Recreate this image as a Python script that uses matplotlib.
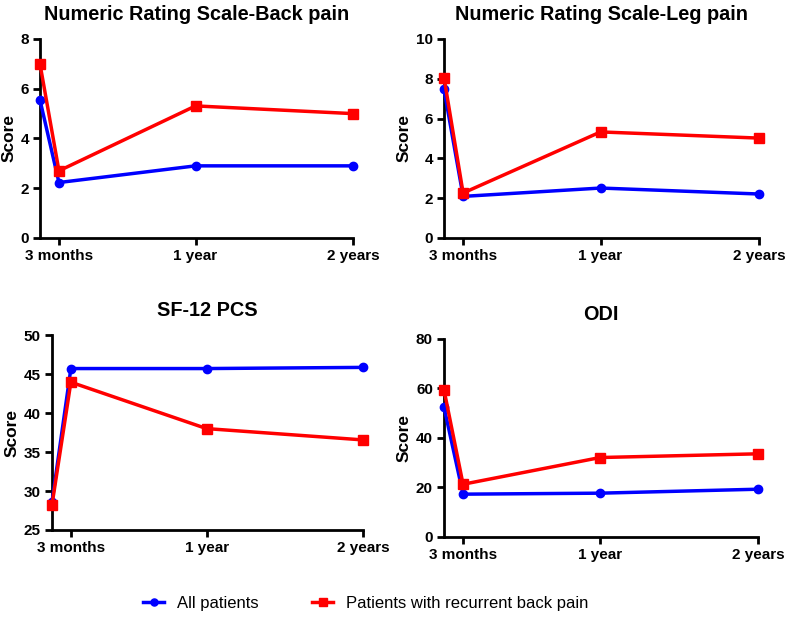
import matplotlib
matplotlib.use('Agg')
import matplotlib.pyplot as plt

plt.rcParams['font.family'] = ['Liberation Sans', 'DejaVu Sans']

# visit positions on the x axis (baseline, 3 months, 1 year, 2 years)
visit_pos = [0, 1, 8.2, 16.5]
tick_labels = ['3 months', '1 year', '2 years']

titles = ['Numeric Rating Scale-Back pain', 'Numeric Rating Scale-Leg pain',
          'SF-12 PCS', 'ODI']

all_back = [5.55, 2.23, 2.90, 2.90]
rec_back = [7.0, 2.70, 5.31, 5.0]
all_leg = [7.47, 2.09, 2.51, 2.21]
rec_leg = [8.06, 2.26, 5.33, 5.02]
all_sf12 = [28.6, 45.7, 45.7, 45.85]
rec_sf12 = [28.25, 43.95, 38.0, 36.55]
all_odi = [52.4, 17.3, 17.7, 19.3]
rec_odi = [59.4, 21.3, 32.1, 33.6]

ylims = [(0, 8), (0, 10), (25, 50), (0, 80)]
yticks = [[0, 2, 4, 6, 8], [0, 2, 4, 6, 8, 10], [25, 30, 35, 40, 45, 50],
          [0, 20, 40, 60, 80]]

series = [(all_back, rec_back), (all_leg, rec_leg),
          (all_sf12, rec_sf12), (all_odi, rec_odi)]

# axes rectangles [left, bottom, width, height] in figure fraction
rects = [[0.0508, 0.6149, 0.3977, 0.3220],
         [0.5642, 0.6149, 0.4002, 0.3220],
         [0.0661, 0.1424, 0.3952, 0.3155],
         [0.5642, 0.1311, 0.3990, 0.3204]]

fig = plt.figure(figsize=(7.87, 6.18), dpi=100)

for i in range(4):
    ax = fig.add_axes(rects[i])
    all_v, rec_v = series[i]
    l1, = ax.plot(visit_pos, all_v, color='#0000ff', lw=2.5, marker='o',
                  ms=6, label='All patients', clip_on=False, zorder=3)
    l2, = ax.plot(visit_pos, rec_v, color='#ff0000', lw=2.5, marker='s',
                  ms=7, label='Patients with recurrent back pain',
                  clip_on=False, zorder=4)
    ax.set_xlim(0, visit_pos[-1])
    ax.set_ylim(*ylims[i])
    ax.set_yticks(yticks[i])
    ax.set_xticks(visit_pos[1:])
    ax.set_xticklabels(tick_labels)
    ax.spines['top'].set_visible(False)
    ax.spines['right'].set_visible(False)
    for s in ['left', 'bottom']:
        ax.spines[s].set_linewidth(2)
    ax.tick_params(width=2, length=5, labelsize=11, pad=3)
    for lab in ax.get_xticklabels() + ax.get_yticklabels():
        lab.set_fontweight('bold')
    ax.set_ylabel('Score', fontsize=12.5, fontweight='bold', labelpad=3)
    ax.set_title(titles[i], fontsize=14.3, fontweight='bold', pad=14)

fig.legend(handles=[l1, l2], loc='center', bbox_to_anchor=(0.465, 0.024),
           ncol=2, frameon=False, fontsize=12, handlelength=1.25,
           columnspacing=3.2, handletextpad=0.8, markerscale=0.85)

fig.savefig('out.png', dpi=100)
